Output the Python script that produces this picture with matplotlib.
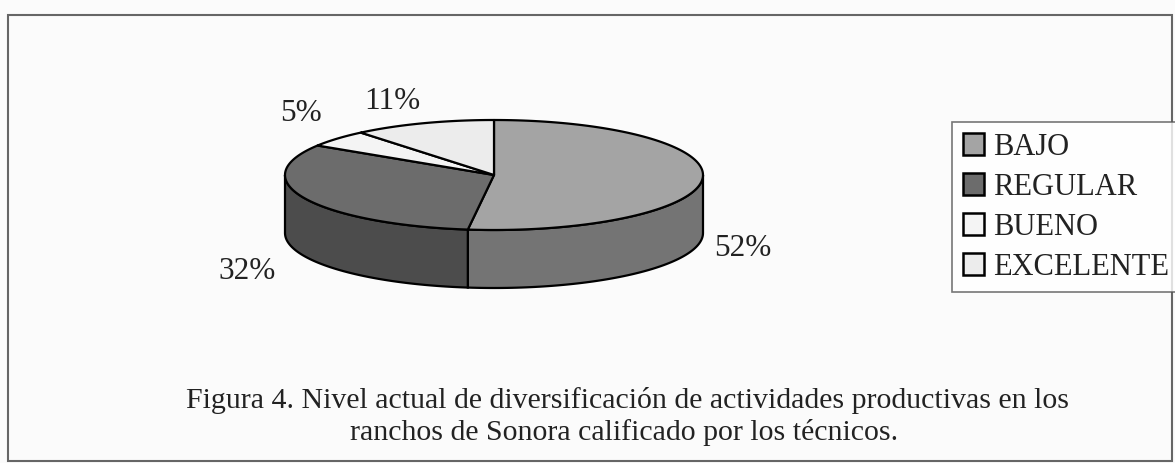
import numpy as np
import matplotlib
matplotlib.use("Agg")
import matplotlib.pyplot as plt
from matplotlib.patches import Polygon, Patch, Rectangle

# data
categories = ["BAJO", "REGULAR", "BUENO", "EXCELENTE"]
values = [52, 32, 5, 11]
labels = ["52%", "32%", "5%", "11%"]
top_colors = ["#a4a4a4", "#6c6c6c", "#f4f4f4", "#ececec"]
side_colors = ["#747474", "#4c4c4c", "#d0d0d0", "#c8c8c8"]
caption = ["Figura 4. Nivel actual de diversificación de actividades productivas en los",
           "ranchos de Sonora calificado por los técnicos."]

plt.rcParams["font.family"] = ["Liberation Serif", "DejaVu Serif"]

W, H = 1175, 463
fig = plt.figure(figsize=(W / 100, H / 100), dpi=100, facecolor="#fbfbfb")
ax = fig.add_axes([0, 0, 1, 1])
ax.set_xlim(0, W)
ax.set_ylim(H, 0)
ax.axis("off")

# pie geometry (pixels)
cx, cy, rx, ry, depth = 494, 175, 209, 55, 58


def ell(theta_deg, dy=0.0):
    t = np.radians(theta_deg)
    return cx + rx * np.sin(t), cy - ry * np.cos(t) + dy


frac = np.array(values, dtype=float) / sum(values)
ends = np.cumsum(frac) * 360
starts = ends - frac * 360

# side walls (front half only: 90..270 deg clockwise from top)
for s, e, c in zip(starts, ends, side_colors):
    a, b = max(s, 90), min(e, 270)
    if a >= b:
        continue
    th = np.linspace(a, b, 80)
    xs, ys = ell(th)
    xb, yb = ell(th[::-1], depth)
    pts = np.column_stack([np.concatenate([xs, xb]), np.concatenate([ys, yb])])
    ax.add_patch(Polygon(pts, closed=True, facecolor=c, edgecolor="black", lw=1.6, zorder=2))

# top faces
for s, e, c in zip(starts, ends, top_colors):
    th = np.linspace(s, e, 120)
    xs, ys = ell(th)
    pts = np.column_stack([np.concatenate([[cx], xs]), np.concatenate([[cy], ys])])
    ax.add_patch(Polygon(pts, closed=True, facecolor=c, edgecolor="black", lw=1.6,
                         joinstyle="round", zorder=3))

# data labels
offsets = [(40, 41), (-58, 44), (-36, -25), (-31, -22)]
for s, e, lab, (ox, oy) in zip(starts, ends, labels, offsets):
    m = (s + e) / 2
    front = 90 <= m <= 270
    x, y = ell(m, depth / 2 if front else 0)
    ax.text(x + ox, y + oy, lab, fontsize=22.5, ha="center", va="center", color="#222222")

# legend
handles = [Patch(facecolor=c, edgecolor="black", lw=1.8) for c in top_colors]
leg = ax.legend(handles, categories, loc="upper left",
                bbox_to_anchor=(952 / W, 1 - 122 / H), bbox_transform=fig.transFigure,
                fontsize=22, frameon=True, fancybox=False, edgecolor="#555555",
                handlelength=0.7, handleheight=0.7, handletextpad=0.3,
                labelspacing=0.36, borderpad=0.35, borderaxespad=0)
leg.get_frame().set_linewidth(1.2)
leg.get_frame().set_facecolor("white")
for t in leg.get_texts():
    t.set_color("#222222")

# caption
ax.text(627, 400, caption[0], fontsize=21.5, ha="center", va="center", color="#222222")
ax.text(624, 433, caption[1], fontsize=21.5, ha="center", va="center", color="#222222")

# outer frame
ax.add_patch(Rectangle((8, 15), 1164, 446, fill=False, edgecolor="#666666", lw=1.5, zorder=5))

fig.savefig("out.png", dpi=100, facecolor=fig.get_facecolor())
